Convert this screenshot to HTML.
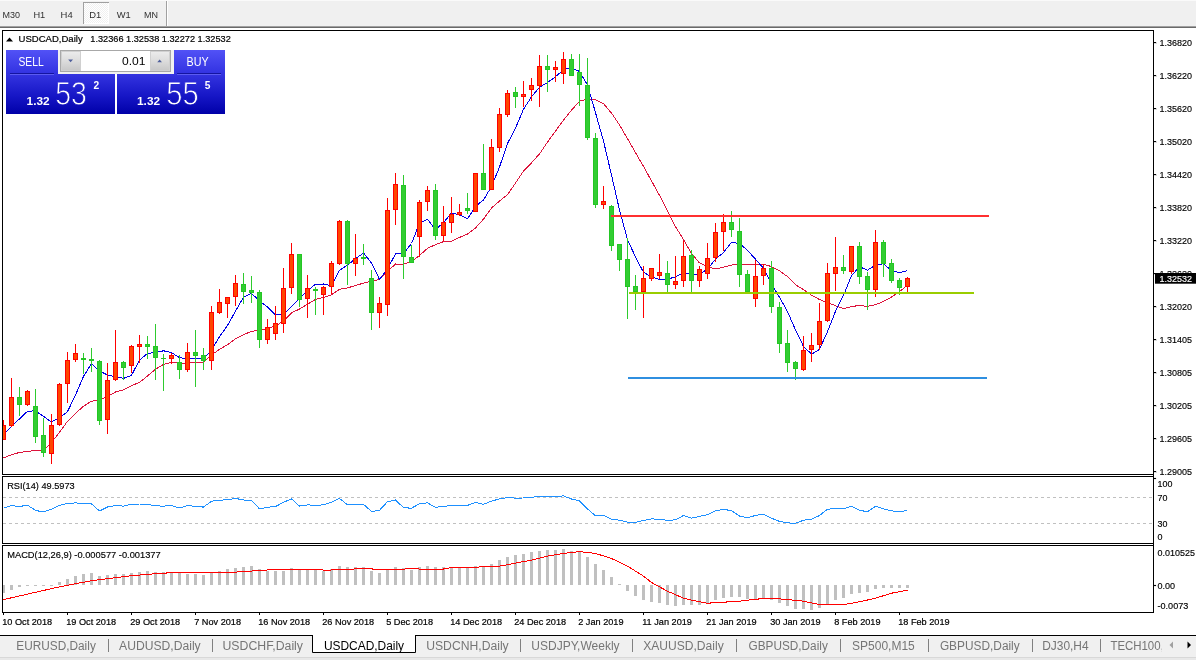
<!DOCTYPE html>
<html><head><meta charset="utf-8"><title>USDCAD,Daily</title>
<style>html,body{margin:0;padding:0;background:#fff;overflow:hidden}body{width:1196px;height:660px;position:relative;font-family:"Liberation Sans",sans-serif}svg{position:absolute;left:0;top:0;display:block}text{font-family:"Liberation Sans",sans-serif}</style>
</head><body>
<svg width="1196" height="660" viewBox="0 0 1196 660">
<defs>
<linearGradient id="gb" gradientUnits="userSpaceOnUse" x1="0" y1="50" x2="0" y2="75"><stop offset="0" stop-color="#5252f6"/><stop offset="1" stop-color="#3030e0"/></linearGradient>
<linearGradient id="gp" gradientUnits="userSpaceOnUse" x1="0" y1="74" x2="0" y2="114"><stop offset="0" stop-color="#3434e0"/><stop offset="0.55" stop-color="#1616c6"/><stop offset="1" stop-color="#0000a8"/></linearGradient>
<linearGradient id="gbtn" x1="0" y1="0" x2="0" y2="1"><stop offset="0" stop-color="#ececec"/><stop offset="0.5" stop-color="#dcdcdc"/><stop offset="1" stop-color="#c8c8c8"/></linearGradient>
<pattern id="dots" width="2" height="2" patternUnits="userSpaceOnUse"><rect width="2" height="2" fill="#fff"/><rect width="1" height="1" fill="#f0f0f0"/><rect x="1" y="1" width="1" height="1" fill="#f0f0f0"/></pattern>
<clipPath id="cm"><rect x="3" y="31" width="1150" height="443"/></clipPath>
<clipPath id="ctab"><rect x="0" y="636" width="1161.6" height="24"/></clipPath>
</defs>
<rect width="1196" height="660" fill="#fff"/>
<rect x="0" y="0" width="1196" height="26" fill="#f0f0f0"/>
<rect x="0" y="0" width="1196" height="1" fill="#fafafa"/>
<rect x="0" y="26" width="1196" height="1" fill="#a0a0a0"/>
<rect x="0" y="27" width="1196" height="1" fill="#696969"/>
<rect x="83" y="2" width="26" height="22" fill="url(#dots)"/><rect x="83" y="2" width="26" height="1" fill="#a0a0a0"/><rect x="83" y="2" width="1" height="22" fill="#a0a0a0"/><rect x="108" y="3" width="1" height="21" fill="#fff"/><rect x="84" y="23" width="25" height="1" fill="#fff"/>
<rect x="166" y="1" width="1" height="25" fill="#a0a0a0"/><rect x="167" y="1" width="1" height="25" fill="#fff"/>
<text x="2.5" y="17.7" font-size="9.6" fill="#303030" textLength="17.5" lengthAdjust="spacingAndGlyphs">M30</text>
<text x="33.4" y="17.7" font-size="9.6" fill="#303030" textLength="11.8" lengthAdjust="spacingAndGlyphs">H1</text>
<text x="60.6" y="17.7" font-size="9.6" fill="#303030" textLength="12.1" lengthAdjust="spacingAndGlyphs">H4</text>
<text x="89.3" y="17.7" font-size="9.6" fill="#303030" textLength="12" lengthAdjust="spacingAndGlyphs">D1</text>
<text x="116.8" y="17.7" font-size="9.6" fill="#303030" textLength="14" lengthAdjust="spacingAndGlyphs">W1</text>
<text x="143.9" y="17.7" font-size="9.6" fill="#303030" textLength="14" lengthAdjust="spacingAndGlyphs">MN</text>
<g shape-rendering="crispEdges" fill="#000">
<rect x="2" y="30" width="1152" height="1"/><rect x="2" y="30" width="1" height="445"/><rect x="2" y="474" width="1152" height="1"/>
<rect x="1153" y="30" width="1" height="583"/>
<rect x="2" y="476" width="1152" height="1"/><rect x="2" y="476" width="1" height="68"/><rect x="2" y="543" width="1152" height="1"/>
<rect x="2" y="545" width="1152" height="1"/><rect x="2" y="545" width="1" height="68"/><rect x="2" y="612" width="1152" height="1"/>
</g>
<g font-size="9.6" fill="#000" stroke="#000" stroke-width="0.15">
<rect x="1154" y="42" width="2" height="1" shape-rendering="crispEdges"/>
<text x="1159.5" y="46.0" textLength="32.5" lengthAdjust="spacingAndGlyphs">1.36820</text>
<rect x="1154" y="75" width="2" height="1" shape-rendering="crispEdges"/>
<text x="1159.5" y="79.0" textLength="32.5" lengthAdjust="spacingAndGlyphs">1.36220</text>
<rect x="1154" y="108" width="2" height="1" shape-rendering="crispEdges"/>
<text x="1159.5" y="112.0" textLength="32.5" lengthAdjust="spacingAndGlyphs">1.35620</text>
<rect x="1154" y="141" width="2" height="1" shape-rendering="crispEdges"/>
<text x="1159.5" y="145.1" textLength="32.5" lengthAdjust="spacingAndGlyphs">1.35020</text>
<rect x="1154" y="174" width="2" height="1" shape-rendering="crispEdges"/>
<text x="1159.5" y="178.1" textLength="32.5" lengthAdjust="spacingAndGlyphs">1.34420</text>
<rect x="1154" y="207" width="2" height="1" shape-rendering="crispEdges"/>
<text x="1159.5" y="211.1" textLength="32.5" lengthAdjust="spacingAndGlyphs">1.33820</text>
<rect x="1154" y="240" width="2" height="1" shape-rendering="crispEdges"/>
<text x="1159.5" y="244.1" textLength="32.5" lengthAdjust="spacingAndGlyphs">1.33220</text>
<rect x="1154" y="273" width="2" height="1" shape-rendering="crispEdges"/>
<text x="1159.5" y="276.9" textLength="32.5" lengthAdjust="spacingAndGlyphs">1.32620</text>
<rect x="1154" y="306" width="2" height="1" shape-rendering="crispEdges"/>
<text x="1159.5" y="310.1" textLength="32.5" lengthAdjust="spacingAndGlyphs">1.32020</text>
<rect x="1154" y="339" width="2" height="1" shape-rendering="crispEdges"/>
<text x="1159.5" y="343.1" textLength="32.5" lengthAdjust="spacingAndGlyphs">1.31405</text>
<rect x="1154" y="372" width="2" height="1" shape-rendering="crispEdges"/>
<text x="1159.5" y="376.1" textLength="32.5" lengthAdjust="spacingAndGlyphs">1.30805</text>
<rect x="1154" y="405" width="2" height="1" shape-rendering="crispEdges"/>
<text x="1159.5" y="409.1" textLength="32.5" lengthAdjust="spacingAndGlyphs">1.30205</text>
<rect x="1154" y="438" width="2" height="1" shape-rendering="crispEdges"/>
<text x="1159.5" y="442.1" textLength="32.5" lengthAdjust="spacingAndGlyphs">1.29605</text>
<rect x="1154" y="471" width="2" height="1" shape-rendering="crispEdges"/>
<text x="1159.5" y="474.9" textLength="32.5" lengthAdjust="spacingAndGlyphs">1.29005</text>
<text x="1157.5" y="486.9" textLength="14.9" lengthAdjust="spacingAndGlyphs">100</text>
<text x="1157.5" y="501.4" textLength="9.9" lengthAdjust="spacingAndGlyphs">70</text>
<text x="1157.5" y="527.2" textLength="9.9" lengthAdjust="spacingAndGlyphs">30</text>
<text x="1157.5" y="539.8" textLength="5.0" lengthAdjust="spacingAndGlyphs">0</text>
<rect x="1154" y="478" width="2" height="1"/>
<text x="1157.5" y="556.1" textLength="37.4" lengthAdjust="spacingAndGlyphs">0.010525</text>
<text x="1157.5" y="589.2" textLength="17.6" lengthAdjust="spacingAndGlyphs">0.00</text>
<text x="1157.5" y="608.8" textLength="30.8" lengthAdjust="spacingAndGlyphs">-0.0073</text>
<rect x="1154" y="585" width="2" height="1"/>
</g>
<rect x="1155" y="273" width="41" height="10.7" fill="#000"/>
<text x="1159.5" y="282.2" font-size="9.6" fill="#fff" stroke="#fff" stroke-width="0.15" textLength="32.5" lengthAdjust="spacingAndGlyphs">1.32532</text>
<g clip-path="url(#cm)">
<polyline points="3.5,457.8 11.5,454.8 19.5,452.4 27.5,451.4 35.5,450.6 43.5,450.4 51.5,442.4 59.5,432.3 67.5,421.3 75.5,413.3 83.5,406.2 91.5,401.2 99.5,400.2 107.5,396.5 115.5,392.0 123.5,389.9 131.5,385.7 139.5,382.4 147.5,376.0 155.5,369.2 163.5,364.5 171.5,362.4 179.5,363.1 187.5,363.0 195.5,362.7 203.5,362.7 211.5,354.9 219.5,349.4 227.5,344.7 235.5,338.7 243.5,334.8 251.5,331.2 259.5,330.6 267.5,328.4 275.5,325.9 283.5,321.1 291.5,312.8 299.5,309.1 307.5,304.3 315.5,299.3 323.5,297.5 331.5,294.7 339.5,289.3 347.5,287.9 355.5,285.5 363.5,283.1 371.5,281.2 379.5,279.5 387.5,271.4 395.5,264.0 403.5,264.2 411.5,261.6 419.5,255.4 427.5,248.3 435.5,244.6 443.5,241.6 451.5,241.1 459.5,237.4 467.5,234.0 475.5,227.9 483.5,219.1 491.5,208.0 499.5,201.1 507.5,194.6 515.5,183.1 523.5,171.1 531.5,162.8 539.5,153.9 547.5,142.1 555.5,131.1 563.5,120.0 571.5,110.2 579.5,101.3 587.5,98.8 595.5,99.9 603.5,103.7 611.5,113.1 619.5,125.0 627.5,138.6 635.5,152.7 643.5,166.4 651.5,180.9 659.5,195.3 667.5,210.8 675.5,226.7 683.5,239.5 691.5,253.5 699.5,262.9 707.5,266.7 715.5,268.9 723.5,267.2 731.5,265.1 739.5,264.3 747.5,264.3 755.5,264.2 763.5,264.2 771.5,266.6 779.5,270.8 787.5,276.6 795.5,284.7 803.5,289.7 811.5,295.1 819.5,299.6 827.5,302.5 835.5,305.7 843.5,308.6 851.5,306.6 859.5,305.4 867.5,306.4 875.5,304.6 883.5,301.5 891.5,297.0 899.5,291.6 907.5,285.2" fill="none" stroke="#dc143c" stroke-width="1" stroke-linejoin="round" shape-rendering="crispEdges"/>
<polyline points="3.5,434.7 11.5,426.3 19.5,418.9 27.5,411.3 35.5,410.8 43.5,416.4 51.5,422.0 59.5,417.8 67.5,411.7 75.5,395.0 83.5,376.4 91.5,363.6 99.5,371.0 107.5,375.0 115.5,376.8 123.5,378.4 131.5,375.3 139.5,360.0 147.5,353.4 155.5,352.5 163.5,350.8 171.5,352.6 179.5,357.7 187.5,358.8 195.5,358.4 203.5,358.7 211.5,350.0 219.5,336.6 227.5,325.6 235.5,311.1 243.5,297.3 251.5,293.4 259.5,300.9 267.5,306.9 275.5,314.8 283.5,314.2 291.5,306.4 299.5,298.4 307.5,290.7 315.5,284.2 323.5,284.0 331.5,285.9 339.5,270.2 347.5,265.2 355.5,258.7 363.5,253.0 371.5,263.0 379.5,279.4 387.5,268.7 395.5,254.0 403.5,253.7 411.5,243.5 419.5,223.3 427.5,219.3 435.5,229.6 443.5,222.6 451.5,212.9 459.5,214.9 467.5,218.9 475.5,206.4 483.5,199.9 491.5,186.5 499.5,167.0 507.5,143.5 515.5,128.2 523.5,109.2 531.5,96.8 539.5,87.2 547.5,82.6 555.5,76.7 563.5,69.7 571.5,67.7 579.5,71.5 587.5,85.1 595.5,112.6 603.5,141.1 611.5,175.1 619.5,209.9 627.5,239.6 635.5,257.0 643.5,272.3 651.5,276.9 659.5,279.4 667.5,279.0 675.5,277.0 683.5,272.4 691.5,274.9 699.5,274.3 707.5,269.0 715.5,259.2 723.5,252.5 731.5,242.4 739.5,243.5 747.5,250.4 755.5,259.2 763.5,268.4 771.5,283.6 779.5,297.4 787.5,311.5 795.5,330.0 803.5,346.4 811.5,354.1 819.5,349.5 827.5,331.6 835.5,311.3 843.5,295.4 851.5,275.7 859.5,266.8 867.5,270.1 875.5,265.1 883.5,263.7 891.5,270.6 899.5,272.8 907.5,270.5" fill="none" stroke="#0000e6" stroke-width="1" stroke-linejoin="round" shape-rendering="crispEdges"/>
<g shape-rendering="crispEdges">
<rect x="3" y="420" width="1" height="20" fill="#ff0000"/>
<rect x="1" y="425" width="5" height="15" fill="#ff0000"/>
<rect x="2" y="426" width="3" height="13" fill="#ff4500"/>
<rect x="11" y="378" width="1" height="49" fill="#ff0000"/>
<rect x="9" y="397" width="5" height="29" fill="#ff0000"/>
<rect x="10" y="398" width="3" height="27" fill="#ff4500"/>
<rect x="19" y="387" width="1" height="29" fill="#2ecb2e"/>
<rect x="17" y="397" width="5" height="8" fill="#24c624"/>
<rect x="18" y="398" width="3" height="6" fill="#32cd32"/>
<rect x="27" y="390" width="1" height="16" fill="#ff0000"/>
<rect x="25" y="391" width="5" height="14" fill="#ff0000"/>
<rect x="26" y="392" width="3" height="12" fill="#ff4500"/>
<rect x="35" y="389" width="1" height="54" fill="#2ecb2e"/>
<rect x="33" y="406" width="5" height="31" fill="#24c624"/>
<rect x="34" y="407" width="3" height="29" fill="#32cd32"/>
<rect x="43" y="418" width="1" height="39" fill="#2ecb2e"/>
<rect x="41" y="435" width="5" height="18" fill="#24c624"/>
<rect x="42" y="436" width="3" height="16" fill="#32cd32"/>
<rect x="51" y="414" width="1" height="50" fill="#ff0000"/>
<rect x="49" y="425" width="5" height="29" fill="#ff0000"/>
<rect x="50" y="426" width="3" height="27" fill="#ff4500"/>
<rect x="59" y="383" width="1" height="43" fill="#ff0000"/>
<rect x="57" y="384" width="5" height="41" fill="#ff0000"/>
<rect x="58" y="385" width="3" height="39" fill="#ff4500"/>
<rect x="67" y="352" width="1" height="51" fill="#ff0000"/>
<rect x="65" y="360" width="5" height="24" fill="#ff0000"/>
<rect x="66" y="361" width="3" height="22" fill="#ff4500"/>
<rect x="75" y="344" width="1" height="18" fill="#ff0000"/>
<rect x="73" y="353" width="5" height="7" fill="#ff0000"/>
<rect x="74" y="354" width="3" height="5" fill="#ff4500"/>
<rect x="83" y="353" width="1" height="21" fill="#2ecb2e"/>
<rect x="81" y="358" width="5" height="2" fill="#24c624"/>
<rect x="91" y="348" width="1" height="24" fill="#2ecb2e"/>
<rect x="89" y="359" width="5" height="2" fill="#24c624"/>
<rect x="99" y="360" width="1" height="65" fill="#2ecb2e"/>
<rect x="97" y="361" width="5" height="60" fill="#24c624"/>
<rect x="98" y="362" width="3" height="58" fill="#32cd32"/>
<rect x="107" y="363" width="1" height="71" fill="#ff0000"/>
<rect x="105" y="380" width="5" height="40" fill="#ff0000"/>
<rect x="106" y="381" width="3" height="38" fill="#ff4500"/>
<rect x="115" y="330" width="1" height="51" fill="#ff0000"/>
<rect x="113" y="362" width="5" height="18" fill="#ff0000"/>
<rect x="114" y="363" width="3" height="16" fill="#ff4500"/>
<rect x="123" y="361" width="1" height="19" fill="#2ecb2e"/>
<rect x="121" y="362" width="5" height="6" fill="#24c624"/>
<rect x="122" y="363" width="3" height="4" fill="#32cd32"/>
<rect x="131" y="345" width="1" height="28" fill="#ff0000"/>
<rect x="129" y="346" width="5" height="20" fill="#ff0000"/>
<rect x="130" y="347" width="3" height="18" fill="#ff4500"/>
<rect x="139" y="335" width="1" height="28" fill="#ff0000"/>
<rect x="137" y="344" width="5" height="3" fill="#ff0000"/>
<rect x="138" y="345" width="3" height="1" fill="#ff4500"/>
<rect x="147" y="336" width="1" height="23" fill="#2ecb2e"/>
<rect x="145" y="344" width="5" height="3" fill="#24c624"/>
<rect x="146" y="345" width="3" height="1" fill="#32cd32"/>
<rect x="155" y="324" width="1" height="56" fill="#2ecb2e"/>
<rect x="153" y="346" width="5" height="12" fill="#24c624"/>
<rect x="154" y="347" width="3" height="10" fill="#32cd32"/>
<rect x="163" y="354" width="1" height="37" fill="#2ecb2e"/>
<rect x="161" y="358" width="5" height="1" fill="#24c624"/>
<rect x="171" y="353" width="1" height="11" fill="#ff0000"/>
<rect x="169" y="355" width="5" height="4" fill="#ff0000"/>
<rect x="170" y="356" width="3" height="2" fill="#ff4500"/>
<rect x="179" y="355" width="1" height="24" fill="#2ecb2e"/>
<rect x="177" y="362" width="5" height="8" fill="#24c624"/>
<rect x="178" y="363" width="3" height="6" fill="#32cd32"/>
<rect x="187" y="343" width="1" height="29" fill="#ff0000"/>
<rect x="185" y="352" width="5" height="18" fill="#ff0000"/>
<rect x="186" y="353" width="3" height="16" fill="#ff4500"/>
<rect x="195" y="330" width="1" height="57" fill="#2ecb2e"/>
<rect x="193" y="352" width="5" height="4" fill="#24c624"/>
<rect x="194" y="353" width="3" height="2" fill="#32cd32"/>
<rect x="203" y="348" width="1" height="22" fill="#2ecb2e"/>
<rect x="201" y="355" width="5" height="6" fill="#24c624"/>
<rect x="202" y="356" width="3" height="4" fill="#32cd32"/>
<rect x="211" y="306" width="1" height="64" fill="#ff0000"/>
<rect x="209" y="312" width="5" height="49" fill="#ff0000"/>
<rect x="210" y="313" width="3" height="47" fill="#ff4500"/>
<rect x="219" y="289" width="1" height="25" fill="#ff0000"/>
<rect x="217" y="302" width="5" height="11" fill="#ff0000"/>
<rect x="218" y="303" width="3" height="9" fill="#ff4500"/>
<rect x="227" y="297" width="1" height="21" fill="#ff0000"/>
<rect x="225" y="297" width="5" height="7" fill="#ff0000"/>
<rect x="226" y="298" width="3" height="5" fill="#ff4500"/>
<rect x="235" y="275" width="1" height="31" fill="#ff0000"/>
<rect x="233" y="283" width="5" height="14" fill="#ff0000"/>
<rect x="234" y="284" width="3" height="12" fill="#ff4500"/>
<rect x="243" y="273" width="1" height="31" fill="#2ecb2e"/>
<rect x="241" y="284" width="5" height="8" fill="#24c624"/>
<rect x="242" y="285" width="3" height="6" fill="#32cd32"/>
<rect x="251" y="276" width="1" height="27" fill="#2ecb2e"/>
<rect x="249" y="290" width="5" height="3" fill="#24c624"/>
<rect x="250" y="291" width="3" height="1" fill="#32cd32"/>
<rect x="259" y="290" width="1" height="58" fill="#2ecb2e"/>
<rect x="257" y="292" width="5" height="48" fill="#24c624"/>
<rect x="258" y="293" width="3" height="46" fill="#32cd32"/>
<rect x="267" y="319" width="1" height="25" fill="#ff0000"/>
<rect x="265" y="327" width="5" height="13" fill="#ff0000"/>
<rect x="266" y="328" width="3" height="11" fill="#ff4500"/>
<rect x="275" y="306" width="1" height="34" fill="#ff0000"/>
<rect x="273" y="323" width="5" height="11" fill="#ff0000"/>
<rect x="274" y="324" width="3" height="9" fill="#ff4500"/>
<rect x="283" y="268" width="1" height="65" fill="#ff0000"/>
<rect x="281" y="288" width="5" height="36" fill="#ff0000"/>
<rect x="282" y="289" width="3" height="34" fill="#ff4500"/>
<rect x="291" y="243" width="1" height="51" fill="#ff0000"/>
<rect x="289" y="254" width="5" height="34" fill="#ff0000"/>
<rect x="290" y="255" width="3" height="32" fill="#ff4500"/>
<rect x="299" y="254" width="1" height="53" fill="#2ecb2e"/>
<rect x="297" y="254" width="5" height="46" fill="#24c624"/>
<rect x="298" y="255" width="3" height="44" fill="#32cd32"/>
<rect x="307" y="275" width="1" height="43" fill="#ff0000"/>
<rect x="305" y="288" width="5" height="11" fill="#ff0000"/>
<rect x="306" y="289" width="3" height="9" fill="#ff4500"/>
<rect x="315" y="287" width="1" height="28" fill="#2ecb2e"/>
<rect x="313" y="289" width="5" height="2" fill="#24c624"/>
<rect x="323" y="286" width="1" height="29" fill="#ff0000"/>
<rect x="321" y="287" width="5" height="8" fill="#ff0000"/>
<rect x="322" y="288" width="3" height="6" fill="#ff4500"/>
<rect x="331" y="261" width="1" height="33" fill="#ff0000"/>
<rect x="329" y="263" width="5" height="24" fill="#ff0000"/>
<rect x="330" y="264" width="3" height="22" fill="#ff4500"/>
<rect x="339" y="220" width="1" height="45" fill="#ff0000"/>
<rect x="337" y="221" width="5" height="43" fill="#ff0000"/>
<rect x="338" y="222" width="3" height="41" fill="#ff4500"/>
<rect x="347" y="220" width="1" height="65" fill="#2ecb2e"/>
<rect x="345" y="221" width="5" height="43" fill="#24c624"/>
<rect x="346" y="222" width="3" height="41" fill="#32cd32"/>
<rect x="355" y="234" width="1" height="42" fill="#ff0000"/>
<rect x="353" y="258" width="5" height="6" fill="#ff0000"/>
<rect x="354" y="259" width="3" height="4" fill="#ff4500"/>
<rect x="363" y="244" width="1" height="21" fill="#2ecb2e"/>
<rect x="361" y="257" width="5" height="2" fill="#24c624"/>
<rect x="371" y="270" width="1" height="60" fill="#2ecb2e"/>
<rect x="369" y="278" width="5" height="35" fill="#24c624"/>
<rect x="370" y="279" width="3" height="33" fill="#32cd32"/>
<rect x="379" y="297" width="1" height="31" fill="#ff0000"/>
<rect x="377" y="303" width="5" height="10" fill="#ff0000"/>
<rect x="378" y="304" width="3" height="8" fill="#ff4500"/>
<rect x="387" y="198" width="1" height="118" fill="#ff0000"/>
<rect x="385" y="210" width="5" height="95" fill="#ff0000"/>
<rect x="386" y="211" width="3" height="93" fill="#ff4500"/>
<rect x="395" y="173" width="1" height="52" fill="#ff0000"/>
<rect x="393" y="184" width="5" height="26" fill="#ff0000"/>
<rect x="394" y="185" width="3" height="24" fill="#ff4500"/>
<rect x="403" y="175" width="1" height="104" fill="#2ecb2e"/>
<rect x="401" y="185" width="5" height="72" fill="#24c624"/>
<rect x="402" y="186" width="3" height="70" fill="#32cd32"/>
<rect x="411" y="245" width="1" height="18" fill="#2ecb2e"/>
<rect x="409" y="257" width="5" height="6" fill="#24c624"/>
<rect x="410" y="258" width="3" height="4" fill="#32cd32"/>
<rect x="419" y="200" width="1" height="57" fill="#ff0000"/>
<rect x="417" y="202" width="5" height="35" fill="#ff0000"/>
<rect x="418" y="203" width="3" height="33" fill="#ff4500"/>
<rect x="427" y="186" width="1" height="25" fill="#ff0000"/>
<rect x="425" y="190" width="5" height="12" fill="#ff0000"/>
<rect x="426" y="191" width="3" height="10" fill="#ff4500"/>
<rect x="435" y="184" width="1" height="56" fill="#2ecb2e"/>
<rect x="433" y="190" width="5" height="46" fill="#24c624"/>
<rect x="434" y="191" width="3" height="44" fill="#32cd32"/>
<rect x="443" y="206" width="1" height="35" fill="#ff0000"/>
<rect x="441" y="222" width="5" height="14" fill="#ff0000"/>
<rect x="442" y="223" width="3" height="12" fill="#ff4500"/>
<rect x="451" y="197" width="1" height="36" fill="#ff0000"/>
<rect x="449" y="214" width="5" height="9" fill="#ff0000"/>
<rect x="450" y="215" width="3" height="7" fill="#ff4500"/>
<rect x="459" y="204" width="1" height="12" fill="#ff0000"/>
<rect x="457" y="212" width="5" height="3" fill="#ff0000"/>
<rect x="458" y="213" width="3" height="1" fill="#ff4500"/>
<rect x="467" y="193" width="1" height="21" fill="#2ecb2e"/>
<rect x="465" y="208" width="5" height="3" fill="#24c624"/>
<rect x="466" y="209" width="3" height="1" fill="#32cd32"/>
<rect x="475" y="173" width="1" height="39" fill="#ff0000"/>
<rect x="473" y="173" width="5" height="39" fill="#ff0000"/>
<rect x="474" y="174" width="3" height="37" fill="#ff4500"/>
<rect x="483" y="144" width="1" height="46" fill="#2ecb2e"/>
<rect x="481" y="173" width="5" height="17" fill="#24c624"/>
<rect x="482" y="174" width="3" height="15" fill="#32cd32"/>
<rect x="491" y="139" width="1" height="51" fill="#ff0000"/>
<rect x="489" y="147" width="5" height="43" fill="#ff0000"/>
<rect x="490" y="148" width="3" height="41" fill="#ff4500"/>
<rect x="499" y="108" width="1" height="44" fill="#ff0000"/>
<rect x="497" y="114" width="5" height="34" fill="#ff0000"/>
<rect x="498" y="115" width="3" height="32" fill="#ff4500"/>
<rect x="507" y="90" width="1" height="27" fill="#ff0000"/>
<rect x="505" y="93" width="5" height="22" fill="#ff0000"/>
<rect x="506" y="94" width="3" height="20" fill="#ff4500"/>
<rect x="515" y="87" width="1" height="21" fill="#2ecb2e"/>
<rect x="513" y="92" width="5" height="5" fill="#24c624"/>
<rect x="514" y="93" width="3" height="3" fill="#32cd32"/>
<rect x="523" y="81" width="1" height="26" fill="#ff0000"/>
<rect x="521" y="94" width="5" height="3" fill="#ff0000"/>
<rect x="522" y="95" width="3" height="1" fill="#ff4500"/>
<rect x="531" y="78" width="1" height="23" fill="#ff0000"/>
<rect x="529" y="85" width="5" height="5" fill="#ff0000"/>
<rect x="530" y="86" width="3" height="3" fill="#ff4500"/>
<rect x="539" y="55" width="1" height="52" fill="#ff0000"/>
<rect x="537" y="66" width="5" height="20" fill="#ff0000"/>
<rect x="538" y="67" width="3" height="18" fill="#ff4500"/>
<rect x="547" y="55" width="1" height="37" fill="#2ecb2e"/>
<rect x="545" y="66" width="5" height="4" fill="#24c624"/>
<rect x="546" y="67" width="3" height="2" fill="#32cd32"/>
<rect x="555" y="61" width="1" height="21" fill="#ff0000"/>
<rect x="553" y="67" width="5" height="3" fill="#ff0000"/>
<rect x="554" y="68" width="3" height="1" fill="#ff4500"/>
<rect x="563" y="52" width="1" height="32" fill="#ff0000"/>
<rect x="561" y="59" width="5" height="15" fill="#ff0000"/>
<rect x="562" y="60" width="3" height="13" fill="#ff4500"/>
<rect x="571" y="54" width="1" height="22" fill="#2ecb2e"/>
<rect x="569" y="59" width="5" height="17" fill="#24c624"/>
<rect x="570" y="60" width="3" height="15" fill="#32cd32"/>
<rect x="579" y="54" width="1" height="52" fill="#2ecb2e"/>
<rect x="577" y="72" width="5" height="13" fill="#24c624"/>
<rect x="578" y="73" width="3" height="11" fill="#32cd32"/>
<rect x="587" y="58" width="1" height="82" fill="#2ecb2e"/>
<rect x="585" y="85" width="5" height="53" fill="#24c624"/>
<rect x="586" y="86" width="3" height="51" fill="#32cd32"/>
<rect x="595" y="133" width="1" height="75" fill="#2ecb2e"/>
<rect x="593" y="138" width="5" height="67" fill="#24c624"/>
<rect x="594" y="139" width="3" height="65" fill="#32cd32"/>
<rect x="603" y="186" width="1" height="23" fill="#ff0000"/>
<rect x="601" y="201" width="5" height="4" fill="#ff0000"/>
<rect x="602" y="202" width="3" height="2" fill="#ff4500"/>
<rect x="611" y="205" width="1" height="46" fill="#2ecb2e"/>
<rect x="609" y="206" width="5" height="40" fill="#24c624"/>
<rect x="610" y="207" width="3" height="38" fill="#32cd32"/>
<rect x="619" y="244" width="1" height="27" fill="#2ecb2e"/>
<rect x="617" y="244" width="5" height="16" fill="#24c624"/>
<rect x="618" y="245" width="3" height="14" fill="#32cd32"/>
<rect x="627" y="238" width="1" height="81" fill="#2ecb2e"/>
<rect x="625" y="259" width="5" height="28" fill="#24c624"/>
<rect x="626" y="260" width="3" height="26" fill="#32cd32"/>
<rect x="635" y="275" width="1" height="35" fill="#2ecb2e"/>
<rect x="633" y="286" width="5" height="6" fill="#24c624"/>
<rect x="634" y="287" width="3" height="4" fill="#32cd32"/>
<rect x="643" y="266" width="1" height="52" fill="#ff0000"/>
<rect x="641" y="278" width="5" height="14" fill="#ff0000"/>
<rect x="642" y="279" width="3" height="12" fill="#ff4500"/>
<rect x="651" y="268" width="1" height="13" fill="#ff0000"/>
<rect x="649" y="268" width="5" height="11" fill="#ff0000"/>
<rect x="650" y="269" width="3" height="9" fill="#ff4500"/>
<rect x="659" y="254" width="1" height="25" fill="#ff0000"/>
<rect x="657" y="272" width="5" height="4" fill="#ff0000"/>
<rect x="658" y="273" width="3" height="2" fill="#ff4500"/>
<rect x="667" y="261" width="1" height="31" fill="#2ecb2e"/>
<rect x="665" y="273" width="5" height="12" fill="#24c624"/>
<rect x="666" y="274" width="3" height="10" fill="#32cd32"/>
<rect x="675" y="256" width="1" height="33" fill="#ff0000"/>
<rect x="673" y="281" width="5" height="4" fill="#ff0000"/>
<rect x="674" y="282" width="3" height="2" fill="#ff4500"/>
<rect x="683" y="241" width="1" height="46" fill="#ff0000"/>
<rect x="681" y="256" width="5" height="25" fill="#ff0000"/>
<rect x="682" y="257" width="3" height="23" fill="#ff4500"/>
<rect x="691" y="250" width="1" height="42" fill="#2ecb2e"/>
<rect x="689" y="255" width="5" height="26" fill="#24c624"/>
<rect x="690" y="256" width="3" height="24" fill="#32cd32"/>
<rect x="699" y="266" width="1" height="21" fill="#ff0000"/>
<rect x="697" y="269" width="5" height="12" fill="#ff0000"/>
<rect x="698" y="270" width="3" height="10" fill="#ff4500"/>
<rect x="707" y="243" width="1" height="36" fill="#ff0000"/>
<rect x="705" y="258" width="5" height="16" fill="#ff0000"/>
<rect x="706" y="259" width="3" height="14" fill="#ff4500"/>
<rect x="715" y="223" width="1" height="39" fill="#ff0000"/>
<rect x="713" y="232" width="5" height="26" fill="#ff0000"/>
<rect x="714" y="233" width="3" height="24" fill="#ff4500"/>
<rect x="723" y="214" width="1" height="37" fill="#ff0000"/>
<rect x="721" y="222" width="5" height="10" fill="#ff0000"/>
<rect x="722" y="223" width="3" height="8" fill="#ff4500"/>
<rect x="731" y="211" width="1" height="26" fill="#2ecb2e"/>
<rect x="729" y="222" width="5" height="8" fill="#24c624"/>
<rect x="730" y="223" width="3" height="6" fill="#32cd32"/>
<rect x="739" y="218" width="1" height="69" fill="#2ecb2e"/>
<rect x="737" y="231" width="5" height="44" fill="#24c624"/>
<rect x="738" y="232" width="3" height="42" fill="#32cd32"/>
<rect x="747" y="270" width="1" height="22" fill="#2ecb2e"/>
<rect x="745" y="274" width="5" height="18" fill="#24c624"/>
<rect x="746" y="275" width="3" height="16" fill="#32cd32"/>
<rect x="755" y="260" width="1" height="47" fill="#ff0000"/>
<rect x="753" y="276" width="5" height="23" fill="#ff0000"/>
<rect x="754" y="277" width="3" height="21" fill="#ff4500"/>
<rect x="763" y="264" width="1" height="21" fill="#ff0000"/>
<rect x="761" y="268" width="5" height="8" fill="#ff0000"/>
<rect x="762" y="269" width="3" height="6" fill="#ff4500"/>
<rect x="771" y="261" width="1" height="52" fill="#2ecb2e"/>
<rect x="769" y="268" width="5" height="39" fill="#24c624"/>
<rect x="770" y="269" width="3" height="37" fill="#32cd32"/>
<rect x="779" y="302" width="1" height="51" fill="#2ecb2e"/>
<rect x="777" y="307" width="5" height="37" fill="#24c624"/>
<rect x="778" y="308" width="3" height="35" fill="#32cd32"/>
<rect x="787" y="330" width="1" height="42" fill="#2ecb2e"/>
<rect x="785" y="343" width="5" height="20" fill="#24c624"/>
<rect x="786" y="344" width="3" height="18" fill="#32cd32"/>
<rect x="795" y="361" width="1" height="19" fill="#2ecb2e"/>
<rect x="793" y="362" width="5" height="7" fill="#24c624"/>
<rect x="794" y="363" width="3" height="5" fill="#32cd32"/>
<rect x="803" y="336" width="1" height="35" fill="#ff0000"/>
<rect x="801" y="350" width="5" height="20" fill="#ff0000"/>
<rect x="802" y="351" width="3" height="18" fill="#ff4500"/>
<rect x="811" y="333" width="1" height="29" fill="#ff0000"/>
<rect x="809" y="345" width="5" height="5" fill="#ff0000"/>
<rect x="810" y="346" width="3" height="3" fill="#ff4500"/>
<rect x="819" y="303" width="1" height="47" fill="#ff0000"/>
<rect x="817" y="321" width="5" height="24" fill="#ff0000"/>
<rect x="818" y="322" width="3" height="22" fill="#ff4500"/>
<rect x="827" y="263" width="1" height="59" fill="#ff0000"/>
<rect x="825" y="273" width="5" height="48" fill="#ff0000"/>
<rect x="826" y="274" width="3" height="46" fill="#ff4500"/>
<rect x="835" y="237" width="1" height="54" fill="#ff0000"/>
<rect x="833" y="267" width="5" height="7" fill="#ff0000"/>
<rect x="834" y="268" width="3" height="5" fill="#ff4500"/>
<rect x="843" y="255" width="1" height="19" fill="#2ecb2e"/>
<rect x="841" y="267" width="5" height="4" fill="#24c624"/>
<rect x="842" y="268" width="3" height="2" fill="#32cd32"/>
<rect x="851" y="246" width="1" height="28" fill="#ff0000"/>
<rect x="849" y="246" width="5" height="26" fill="#ff0000"/>
<rect x="850" y="247" width="3" height="24" fill="#ff4500"/>
<rect x="859" y="242" width="1" height="42" fill="#2ecb2e"/>
<rect x="857" y="246" width="5" height="31" fill="#24c624"/>
<rect x="858" y="247" width="3" height="29" fill="#32cd32"/>
<rect x="867" y="272" width="1" height="38" fill="#2ecb2e"/>
<rect x="865" y="276" width="5" height="14" fill="#24c624"/>
<rect x="866" y="277" width="3" height="12" fill="#32cd32"/>
<rect x="875" y="230" width="1" height="67" fill="#ff0000"/>
<rect x="873" y="242" width="5" height="48" fill="#ff0000"/>
<rect x="874" y="243" width="3" height="46" fill="#ff4500"/>
<rect x="883" y="240" width="1" height="37" fill="#2ecb2e"/>
<rect x="881" y="242" width="5" height="22" fill="#24c624"/>
<rect x="882" y="243" width="3" height="20" fill="#32cd32"/>
<rect x="891" y="259" width="1" height="24" fill="#2ecb2e"/>
<rect x="889" y="263" width="5" height="18" fill="#24c624"/>
<rect x="890" y="264" width="3" height="16" fill="#32cd32"/>
<rect x="899" y="278" width="1" height="17" fill="#2ecb2e"/>
<rect x="897" y="280" width="5" height="8" fill="#24c624"/>
<rect x="898" y="281" width="3" height="6" fill="#32cd32"/>
<rect x="907" y="277" width="1" height="15" fill="#ff0000"/>
<rect x="905" y="278" width="5" height="9" fill="#ff0000"/>
<rect x="906" y="279" width="3" height="7" fill="#ff4500"/>
</g>
<rect x="611" y="215" width="378" height="2" fill="#ff3030"/>
<rect x="629" y="292" width="345" height="2" fill="#9acd00"/>
<rect x="628" y="377" width="359" height="2" fill="#2f8fe0"/>
</g>
<path d="M6 41.5 L9.5 37.5 L13 41.5 Z" fill="#000"/>
<text x="18.5" y="41.8" font-size="9.6" fill="#000" stroke="#000" stroke-width="0.2" textLength="64.2" lengthAdjust="spacingAndGlyphs">USDCAD,Daily</text>
<text x="90.3" y="41.8" font-size="9.6" fill="#000" stroke="#000" stroke-width="0.2" textLength="140.5" lengthAdjust="spacingAndGlyphs">1.32366 1.32538 1.32272 1.32532</text>
<rect x="6" y="50" width="52" height="25" fill="url(#gb)" stroke="#2020b8" stroke-width="0"/>
<rect x="174" y="50" width="51" height="25" fill="url(#gb)"/>
<rect x="6" y="74" width="109" height="40" fill="url(#gp)"/>
<rect x="117" y="74" width="108" height="40" fill="url(#gp)"/>
<rect x="10" y="73" width="44" height="1" fill="#1414a0"/><rect x="10" y="74" width="44" height="1" fill="#5c5cf0"/>
<rect x="177" y="73" width="44" height="1" fill="#1414a0"/><rect x="177" y="74" width="44" height="1" fill="#5c5cf0"/>
<rect x="58" y="50" width="116" height="24" fill="#f0f0f0"/>
<rect x="60.5" y="50.5" width="110" height="21" fill="#fff" stroke="#a8a8a8"/>
<rect x="61.5" y="51.5" width="19" height="19" fill="url(#gbtn)" stroke="#d0d0d0"/>
<rect x="150.5" y="51.5" width="19" height="19" fill="url(#gbtn)" stroke="#d0d0d0"/>
<path d="M68.2 59.5 L73 59.5 L70.6 62.2 Z" fill="#50609c"/>
<path d="M157.2 62.2 L162 62.2 L159.6 59.5 Z" fill="#50609c"/>
<text x="18.5" y="65.8" font-size="12" fill="#fff" textLength="25.2" lengthAdjust="spacingAndGlyphs">SELL</text>
<text x="186.6" y="65.8" font-size="12" fill="#fff" textLength="22.1" lengthAdjust="spacingAndGlyphs">BUY</text>
<text x="122" y="64.7" font-size="11" fill="#000" textLength="23.5" lengthAdjust="spacingAndGlyphs">0.01</text>
<text x="26.6" y="104.9" font-size="11.3" font-weight="bold" fill="#fff" textLength="23.1" lengthAdjust="spacingAndGlyphs">1.32</text>
<text x="55.2" y="105" font-size="33" fill="#fff" stroke="url(#gp)" stroke-width="0.9" textLength="31.7" lengthAdjust="spacingAndGlyphs">53</text>
<text x="93.6" y="88.9" font-size="10.2" font-weight="bold" fill="#fff">2</text>
<text x="137" y="104.9" font-size="11.3" font-weight="bold" fill="#fff" textLength="23.1" lengthAdjust="spacingAndGlyphs">1.32</text>
<text x="166.2" y="105" font-size="33" fill="#fff" stroke="url(#gp)" stroke-width="0.9" textLength="32.5" lengthAdjust="spacingAndGlyphs">55</text>
<text x="204.7" y="88.9" font-size="10.2" font-weight="bold" fill="#fff">5</text>
<text x="7.2" y="488.5" font-size="9.6" fill="#000" stroke="#000" stroke-width="0.15" textLength="67.5" lengthAdjust="spacingAndGlyphs">RSI(14) 49.5973</text>
<g stroke="#c0c0c0" stroke-width="1" stroke-dasharray="3 3" shape-rendering="crispEdges"><line x1="3" y1="497.5" x2="1153" y2="497.5"/><line x1="3" y1="523.5" x2="1153" y2="523.5"/></g>
<polyline points="3.5,508.1 11.5,505.6 19.5,506.5 27.5,505.2 35.5,510.4 43.5,512.0 51.5,509.1 59.5,505.3 67.5,503.4 75.5,502.9 83.5,503.7 91.5,503.9 99.5,511.0 107.5,507.0 115.5,505.5 123.5,506.1 131.5,504.2 139.5,504.0 147.5,504.4 155.5,505.9 163.5,506.1 171.5,505.7 179.5,507.9 187.5,505.7 195.5,506.3 203.5,507.1 211.5,501.2 219.5,500.2 227.5,499.8 235.5,498.4 243.5,500.0 251.5,500.3 259.5,508.9 267.5,507.2 275.5,506.6 283.5,502.3 291.5,498.9 299.5,506.1 307.5,504.9 315.5,505.3 323.5,504.9 331.5,502.2 339.5,498.4 347.5,504.8 355.5,504.2 363.5,504.3 371.5,511.5 379.5,510.3 387.5,501.7 395.5,499.9 403.5,507.7 411.5,508.2 419.5,503.7 427.5,502.9 435.5,507.3 443.5,506.3 451.5,505.7 459.5,505.5 467.5,505.4 475.5,502.3 483.5,504.3 491.5,501.1 499.5,498.9 507.5,497.7 515.5,498.1 523.5,498.0 531.5,497.4 539.5,496.1 547.5,496.8 555.5,496.5 563.5,495.9 571.5,499.0 579.5,500.8 587.5,508.9 595.5,515.8 603.5,515.4 611.5,519.1 619.5,520.2 627.5,522.1 635.5,522.5 643.5,520.4 651.5,518.9 659.5,519.3 667.5,520.4 675.5,519.8 683.5,515.5 691.5,518.2 699.5,516.4 707.5,514.6 715.5,510.8 723.5,509.4 731.5,510.6 739.5,516.1 747.5,517.8 755.5,515.4 763.5,514.1 771.5,518.2 779.5,521.4 787.5,522.9 795.5,523.3 803.5,520.2 811.5,519.3 819.5,515.5 827.5,509.2 835.5,508.6 843.5,509.0 851.5,506.1 859.5,510.2 867.5,511.8 875.5,506.3 883.5,508.9 891.5,510.9 899.5,511.7 907.5,510.5" fill="none" stroke="#1e90ff" stroke-width="1" stroke-linejoin="round" shape-rendering="crispEdges"/>
<text x="7.2" y="557.7" font-size="9.6" fill="#000" stroke="#000" stroke-width="0.15" textLength="153.5" lengthAdjust="spacingAndGlyphs">MACD(12,26,9) -0.000577 -0.001377</text>
<g fill="#c0c0c0" shape-rendering="crispEdges">
<rect x="3" y="585" width="2" height="8"/>
<rect x="10" y="585" width="3" height="5"/>
<rect x="18" y="585" width="3" height="2"/>
<rect x="26" y="585" width="3" height="1"/>
<rect x="34" y="585" width="3" height="1"/>
<rect x="42" y="585" width="3" height="1"/>
<rect x="50" y="585" width="3" height="1"/>
<rect x="58" y="582" width="3" height="3"/>
<rect x="66" y="579" width="3" height="6"/>
<rect x="74" y="576" width="3" height="9"/>
<rect x="82" y="574" width="3" height="11"/>
<rect x="90" y="573" width="3" height="12"/>
<rect x="98" y="576" width="3" height="9"/>
<rect x="106" y="575" width="3" height="10"/>
<rect x="114" y="574" width="3" height="11"/>
<rect x="122" y="574" width="3" height="11"/>
<rect x="130" y="573" width="3" height="12"/>
<rect x="138" y="572" width="3" height="13"/>
<rect x="146" y="571" width="3" height="14"/>
<rect x="154" y="572" width="3" height="13"/>
<rect x="162" y="572" width="3" height="13"/>
<rect x="170" y="572" width="3" height="13"/>
<rect x="178" y="573" width="3" height="12"/>
<rect x="186" y="574" width="3" height="11"/>
<rect x="194" y="574" width="3" height="11"/>
<rect x="202" y="575" width="3" height="10"/>
<rect x="210" y="573" width="3" height="12"/>
<rect x="218" y="571" width="3" height="14"/>
<rect x="226" y="569" width="3" height="16"/>
<rect x="234" y="568" width="3" height="17"/>
<rect x="242" y="567" width="3" height="18"/>
<rect x="250" y="566" width="3" height="19"/>
<rect x="258" y="569" width="3" height="16"/>
<rect x="266" y="571" width="3" height="14"/>
<rect x="274" y="571" width="3" height="14"/>
<rect x="282" y="571" width="3" height="14"/>
<rect x="290" y="568" width="3" height="17"/>
<rect x="298" y="570" width="3" height="15"/>
<rect x="306" y="570" width="3" height="15"/>
<rect x="314" y="570" width="3" height="15"/>
<rect x="322" y="571" width="3" height="14"/>
<rect x="330" y="569" width="3" height="16"/>
<rect x="338" y="566" width="3" height="19"/>
<rect x="346" y="567" width="3" height="18"/>
<rect x="354" y="567" width="3" height="18"/>
<rect x="362" y="567" width="3" height="18"/>
<rect x="370" y="571" width="3" height="14"/>
<rect x="378" y="573" width="3" height="12"/>
<rect x="386" y="570" width="3" height="15"/>
<rect x="394" y="567" width="3" height="18"/>
<rect x="402" y="568" width="3" height="17"/>
<rect x="410" y="570" width="3" height="15"/>
<rect x="418" y="567" width="3" height="18"/>
<rect x="426" y="566" width="3" height="19"/>
<rect x="434" y="567" width="3" height="18"/>
<rect x="442" y="567" width="3" height="18"/>
<rect x="450" y="568" width="3" height="17"/>
<rect x="458" y="568" width="3" height="17"/>
<rect x="466" y="568" width="3" height="17"/>
<rect x="474" y="566" width="3" height="19"/>
<rect x="482" y="566" width="3" height="19"/>
<rect x="490" y="564" width="3" height="21"/>
<rect x="498" y="560" width="3" height="25"/>
<rect x="506" y="557" width="3" height="28"/>
<rect x="514" y="555" width="3" height="30"/>
<rect x="522" y="554" width="3" height="31"/>
<rect x="530" y="552" width="3" height="33"/>
<rect x="538" y="551" width="3" height="34"/>
<rect x="546" y="550" width="3" height="35"/>
<rect x="554" y="550" width="3" height="35"/>
<rect x="562" y="549" width="3" height="36"/>
<rect x="570" y="551" width="3" height="34"/>
<rect x="578" y="551" width="3" height="34"/>
<rect x="586" y="557" width="3" height="28"/>
<rect x="594" y="564" width="3" height="21"/>
<rect x="602" y="570" width="3" height="15"/>
<rect x="610" y="577" width="3" height="8"/>
<rect x="618" y="584" width="3" height="1"/>
<rect x="626" y="585" width="3" height="6"/>
<rect x="634" y="585" width="3" height="11"/>
<rect x="642" y="585" width="3" height="15"/>
<rect x="650" y="585" width="3" height="17"/>
<rect x="658" y="585" width="3" height="18"/>
<rect x="666" y="585" width="3" height="20"/>
<rect x="674" y="585" width="3" height="21"/>
<rect x="682" y="585" width="3" height="20"/>
<rect x="690" y="585" width="3" height="20"/>
<rect x="698" y="585" width="3" height="20"/>
<rect x="706" y="585" width="3" height="18"/>
<rect x="714" y="585" width="3" height="15"/>
<rect x="722" y="585" width="3" height="13"/>
<rect x="730" y="585" width="3" height="12"/>
<rect x="738" y="585" width="3" height="12"/>
<rect x="746" y="585" width="3" height="14"/>
<rect x="754" y="585" width="3" height="14"/>
<rect x="762" y="585" width="3" height="13"/>
<rect x="770" y="585" width="3" height="15"/>
<rect x="778" y="585" width="3" height="18"/>
<rect x="786" y="585" width="3" height="21"/>
<rect x="794" y="585" width="3" height="24"/>
<rect x="802" y="585" width="3" height="24"/>
<rect x="810" y="585" width="3" height="25"/>
<rect x="818" y="585" width="3" height="23"/>
<rect x="826" y="585" width="3" height="19"/>
<rect x="834" y="585" width="3" height="15"/>
<rect x="842" y="585" width="3" height="13"/>
<rect x="850" y="585" width="3" height="9"/>
<rect x="858" y="585" width="3" height="8"/>
<rect x="866" y="585" width="3" height="7"/>
<rect x="874" y="585" width="3" height="4"/>
<rect x="882" y="585" width="3" height="3"/>
<rect x="890" y="585" width="3" height="3"/>
<rect x="898" y="585" width="3" height="3"/>
<rect x="906" y="585" width="3" height="3"/>
</g>
<polyline points="3.5,599.6 59.5,586.8 91.5,580.7 131.5,575.7 163.5,573.1 195.5,572.1 235.5,572.1 272.0,569.7 320.0,569.7 328.0,570.5 336.0,569.3 352.0,569.3 360.0,568.1 368.0,568.1 376.0,569.7 400.0,569.7 408.0,568.5 416.0,568.5 424.0,569.7 440.0,569.7 448.0,568.1 456.0,567.1 467.5,567.5 500.0,566.1 515.5,563.1 531.5,560.1 547.5,556.1 563.5,553.4 579.5,551.6 595.5,553.4 611.5,558.5 627.5,566.1 643.5,576.1 651.5,582.5 667.5,591.2 683.5,598.2 691.5,600.2 707.5,603.2 723.5,602.2 739.5,601.2 755.5,599.2 771.5,598.2 787.5,599.6 803.5,601.2 819.5,604.6 843.5,604.6 859.5,601.8 875.5,598.2 891.5,593.2 907.5,590.2" fill="none" stroke="#ff0000" stroke-width="1" stroke-linejoin="round" shape-rendering="crispEdges"/>
<g font-size="9.5" fill="#000" stroke="#000" stroke-width="0.2" transform="scale(0.965,1)">
<text x="2.28" y="624.6">10 Oct 2018</text>
<text x="68.60" y="624.6">19 Oct 2018</text>
<text x="134.92" y="624.6">29 Oct 2018</text>
<text x="201.24" y="624.6">7 Nov 2018</text>
<text x="267.56" y="624.6">16 Nov 2018</text>
<text x="333.89" y="624.6">26 Nov 2018</text>
<text x="400.21" y="624.6">5 Dec 2018</text>
<text x="466.53" y="624.6">14 Dec 2018</text>
<text x="532.85" y="624.6">24 Dec 2018</text>
<text x="599.17" y="624.6">2 Jan 2019</text>
<text x="665.49" y="624.6">11 Jan 2019</text>
<text x="731.81" y="624.6">21 Jan 2019</text>
<text x="798.13" y="624.6">30 Jan 2019</text>
<text x="864.46" y="624.6">8 Feb 2019</text>
<text x="930.78" y="624.6">18 Feb 2019</text>
</g>
<g shape-rendering="crispEdges">
<rect x="3" y="613" width="1" height="2"/>
<rect x="67" y="613" width="1" height="2"/>
<rect x="131" y="613" width="1" height="2"/>
<rect x="195" y="613" width="1" height="2"/>
<rect x="259" y="613" width="1" height="2"/>
<rect x="323" y="613" width="1" height="2"/>
<rect x="387" y="613" width="1" height="2"/>
<rect x="451" y="613" width="1" height="2"/>
<rect x="515" y="613" width="1" height="2"/>
<rect x="579" y="613" width="1" height="2"/>
<rect x="643" y="613" width="1" height="2"/>
<rect x="707" y="613" width="1" height="2"/>
<rect x="771" y="613" width="1" height="2"/>
<rect x="835" y="613" width="1" height="2"/>
<rect x="899" y="613" width="1" height="2"/>
</g>
<rect x="0" y="636" width="1196" height="24" fill="#f0f0f0"/>
<rect x="0" y="635" width="1196" height="1" fill="#000"/>
<rect x="0" y="657" width="1196" height="1" fill="#d8d8d8"/>
<rect x="0" y="658" width="1196" height="2" fill="#e8e8e8"/>
<rect x="313" y="635" width="103" height="18" fill="#fff"/>
<path d="M312.5 635 V652.5 H415.5 V635" fill="none" stroke="#000" stroke-width="1"/>
<g font-size="12" fill="#757575">
<text x="16.3" y="649.6" textLength="79.5" lengthAdjust="spacingAndGlyphs">EURUSD,Daily</text>
<text x="119.1" y="649.6" textLength="81.6" lengthAdjust="spacingAndGlyphs">AUDUSD,Daily</text>
<text x="222.5" y="649.6" textLength="80.5" lengthAdjust="spacingAndGlyphs">USDCHF,Daily</text>
<text x="426.2" y="649.6" textLength="82.5" lengthAdjust="spacingAndGlyphs">USDCNH,Daily</text>
<text x="531.3" y="649.6" textLength="88.3" lengthAdjust="spacingAndGlyphs">USDJPY,Weekly</text>
<text x="643.2" y="649.6" textLength="80.5" lengthAdjust="spacingAndGlyphs">XAUUSD,Daily</text>
<text x="748.5" y="649.6" textLength="79.3" lengthAdjust="spacingAndGlyphs">GBPUSD,Daily</text>
<text x="852.1" y="649.6" textLength="62.7" lengthAdjust="spacingAndGlyphs">SP500,M15</text>
<text x="939.9" y="649.6" textLength="79.8" lengthAdjust="spacingAndGlyphs">GBPUSD,Daily</text>
<text x="1042.2" y="649.6" textLength="46.4" lengthAdjust="spacingAndGlyphs">DJ30,H4</text>
<g clip-path="url(#ctab)"><text x="1110.4" y="649.6" textLength="78.8" lengthAdjust="spacingAndGlyphs">TECH100,Daily</text></g>
</g>
<text x="323.9" y="649.6" font-size="12" fill="#000" textLength="80.2" lengthAdjust="spacingAndGlyphs">USDCAD,Daily</text>
<g fill="#808080" shape-rendering="crispEdges">
<rect x="108" y="639" width="1" height="13"/>
<rect x="212" y="639" width="1" height="13"/>
<rect x="520" y="639" width="1" height="13"/>
<rect x="632" y="639" width="1" height="13"/>
<rect x="736" y="639" width="1" height="13"/>
<rect x="840" y="639" width="1" height="13"/>
<rect x="928" y="639" width="1" height="13"/>
<rect x="1032" y="639" width="1" height="13"/>
<rect x="1100" y="639" width="1" height="13"/>
</g>
<path d="M1173 641.5 L1173 648.5 L1169.5 645 Z" fill="#a0a0a0"/>
<path d="M1187.5 641.5 L1187.5 648.5 L1191 645 Z" fill="#000"/>
</svg></body></html>
